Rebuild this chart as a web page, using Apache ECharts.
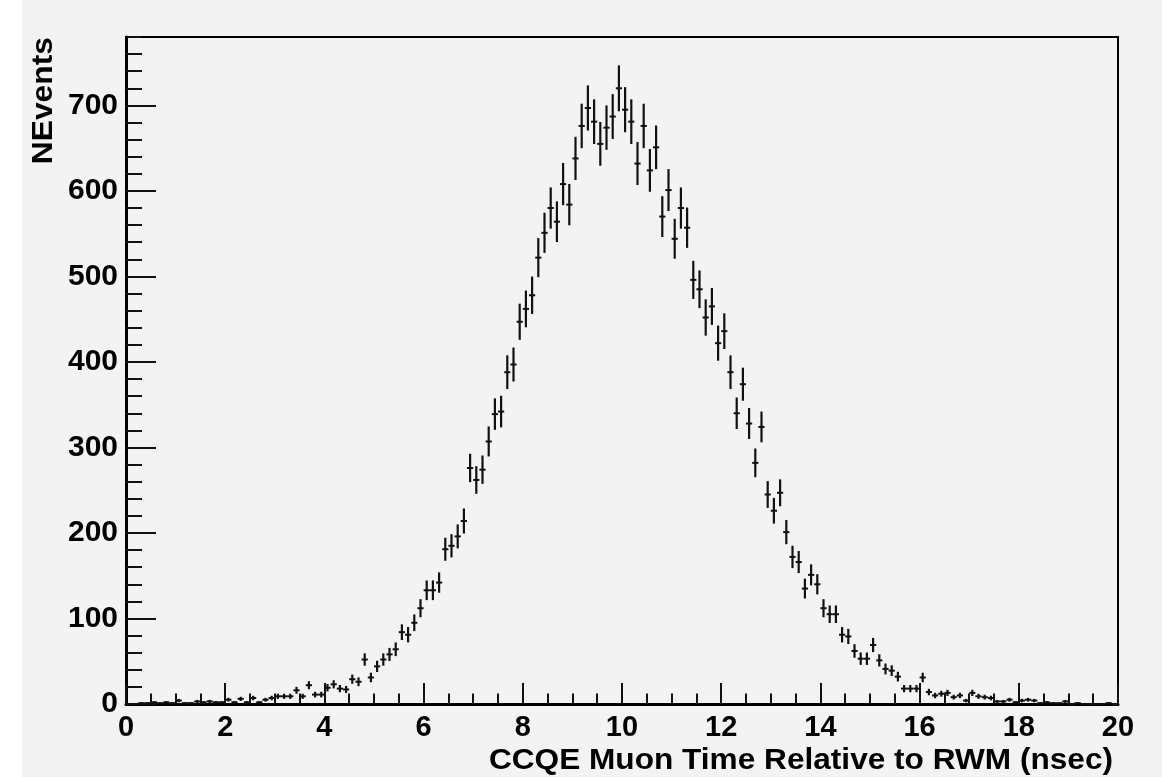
<!DOCTYPE html>
<html>
<head>
<meta charset="utf-8">
<script src="https://cdn.jsdelivr.net/npm/echarts@6/dist/echarts.min.js"></script>
<style>
  html, body { margin: 0; padding: 0; background: #ffffff; }
  #chart { position: absolute; left: 0; top: 0; width: 1162px; height: 777px; }
  #strip { position: absolute; left: 0; top: 0; width: 22px; height: 777px; background: #ffffff; z-index: 5; }
</style>
</head>
<body>
<div id="chart"></div>
<div id="strip"></div>
<script>
// ---- data ----
const binWidth = 0.125;            // ns per bin, 160 bins over 0..20
const xMin = 0, xMax = 20, xStep = 2;
const yMin = 0, yMax = 780, yStep = 100, yMinorStep = 20;
const xTitle = 'CCQE Muon Time Relative to RWM (nsec)';
const yTitle = 'NEvents';
const counts = [
  0, 0, 1, 1, 2, 1, 2, 1, 4, 1, 1, 3, 2, 3, 2, 2, 5,
  2, 6, 2, 7, 2, 5, 7, 9, 9, 9, 16, 9, 22, 11, 11, 19, 23, 18, 17, 29, 26,
  52, 31, 44, 52, 58, 64, 84, 81, 95,
  112, 133, 133, 142, 181, 185, 196, 214, 276, 262, 274, 307, 339, 342,
  388, 397, 447, 462, 478, 522, 551, 580, 564, 608, 584, 638, 676, 697, 681, 655,
  674, 687, 720, 695, 681, 632, 676, 624, 651, 570, 601, 544, 580, 557, 496, 485,
  452, 465, 422, 436, 388, 340, 374,
  328, 282, 324, 245, 226, 247, 201, 172, 166, 135, 151, 140, 112, 105, 105, 81, 79,
  62, 53, 53, 69, 51, 41, 39, 32, 18, 18, 18, 31, 14, 10, 12, 13, 8, 10, 4, 13, 9, 8, 7,
  3, 3, 5, 2, 4, 5, 4, 1, 2, 1, 1, 3, 0, 1, 0, 0, 0, 0, 1, 0
];

const histData = counts.map((c, i) => [(i + 0.5) * binWidth, c]);

const FONT = '"Liberation Sans", Arial, Helvetica, sans-serif';
const chart = echarts.init(document.getElementById('chart'), null, { renderer: 'canvas' });

chart.setOption({
  animation: false,
  backgroundColor: '#f3f3f3',
  grid: {
    left: 126, right: 44, top: 37, bottom: 73,
    show: true, borderColor: '#000', borderWidth: 2, backgroundColor: 'transparent'
  },
  xAxis: [{
    type: 'value', min: xMin, max: xMax, interval: xStep, position: 'bottom',
    axisLine: { show: true, onZero: false, lineStyle: { color: '#000', width: 3 } },
    axisTick: { show: true, inside: true, length: 21, lineStyle: { color: '#111', width: 2 } },
    minorTick: { show: true, splitNumber: 4, length: 10.5, lineStyle: { color: '#111', width: 2 } },
    splitLine: { show: false }, minorSplitLine: { show: false },
    axisLabel: { color: '#000', fontFamily: FONT, fontWeight: 'bold', fontSize: 29, margin: 9 }
  }],
  yAxis: [{
    type: 'value', min: yMin, max: yMax, interval: yStep, position: 'left',
    axisLine: { show: true, onZero: false, lineStyle: { color: '#000', width: 3 } },
    axisTick: { show: true, inside: true, length: 30, lineStyle: { color: '#111', width: 2 } },
    splitLine: { show: false },
    axisLabel: { color: '#000', fontFamily: FONT, fontWeight: 'bold', fontSize: 30, margin: 8,
                 showMaxLabel: false, padding: [0, 0, 5, 0] }
  }, {
    type: 'value', min: yMin, max: yMax, interval: yMinorStep, position: 'left',
    axisLine: { show: false },
    axisTick: { show: true, inside: true, length: 16, lineStyle: { color: '#111', width: 2 } },
    splitLine: { show: false },
    axisLabel: { show: false }
  }],
  graphic: [
    {
      type: 'text', x: 1113, y: 761, scaleX: 1.09,
      style: { text: xTitle, fill: '#000', fontFamily: FONT, fontWeight: 'bold', fontSize: 29,
               align: 'right', verticalAlign: 'middle' }
    },
    {
      type: 'text', x: 44, y: 37, rotation: Math.PI / 2, scaleX: 1.06,
      style: { text: yTitle, fill: '#000', fontFamily: FONT, fontWeight: 'bold', fontSize: 30,
               align: 'right', verticalAlign: 'middle' }
    }
  ],
  series: [{
    type: 'custom',
    xAxisIndex: 0, yAxisIndex: 0,
    data: histData,
    encode: { x: 0, y: 1 },
    renderItem: function (params, api) {
      const x = api.value(0), v = api.value(1);
      const e = Math.sqrt(v);
      const h = binWidth / 2;
      const pL = api.coord([x - h, v]), pR = api.coord([x + h, v]);
      const pT = api.coord([x, v + e]), pB = api.coord([x, v - e]);
      return {
        type: 'group',
        children: [
          { type: 'line', shape: { x1: pL[0], y1: pL[1], x2: pR[0], y2: pR[1] },
            style: { stroke: '#111', lineWidth: 2 } },
          { type: 'line', shape: { x1: pT[0], y1: pT[1], x2: pB[0], y2: pB[1] },
            style: { stroke: '#111', lineWidth: 2.2 } }
        ]
      };
    }
  }]
});
</script>
</body>
</html>
